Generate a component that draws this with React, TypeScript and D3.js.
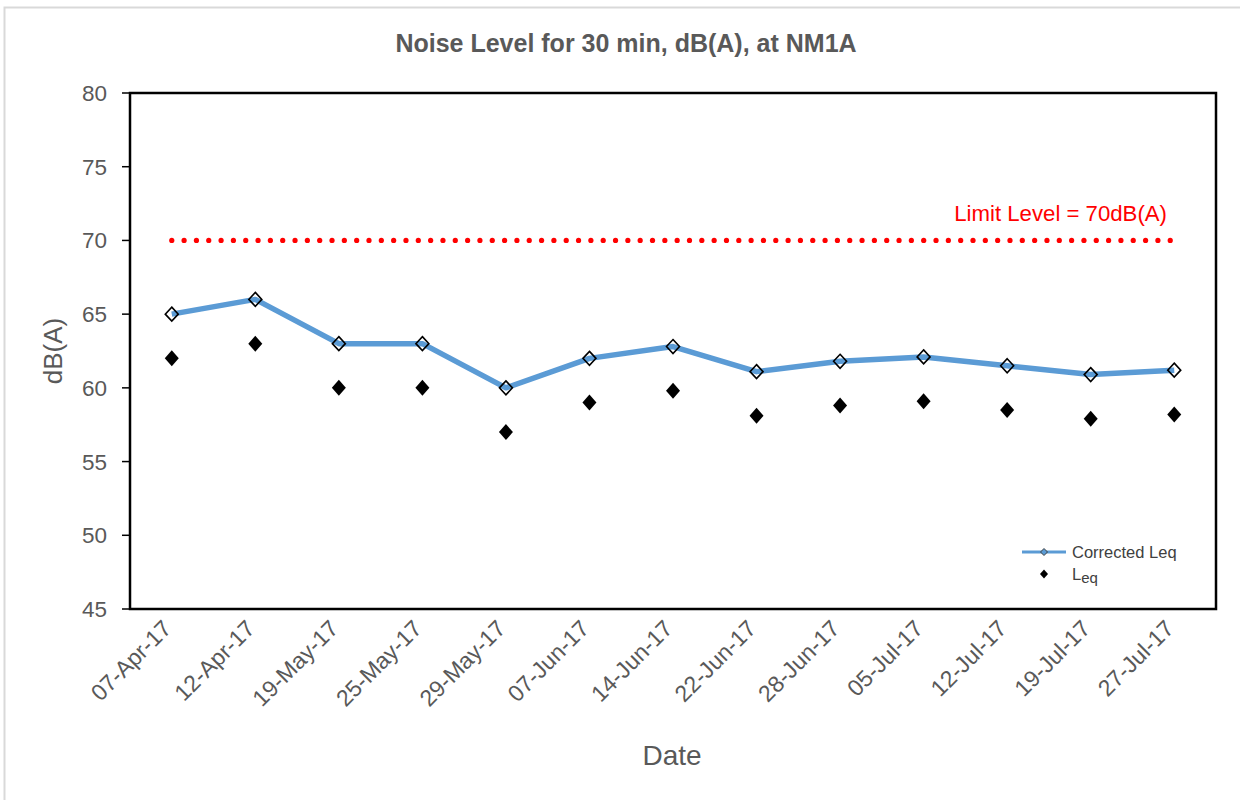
import React from "react";
import * as d3 from "d3";

const dates = ["07-Apr-17","12-Apr-17","19-May-17","25-May-17","29-May-17","07-Jun-17","14-Jun-17","22-Jun-17","28-Jun-17","05-Jul-17","12-Jul-17","19-Jul-17","27-Jul-17"];
const correctedLeq = [65, 66, 63, 63, 60, 62, 62.8, 61.1, 61.8, 62.1, 61.5, 60.9, 61.2];
const leq = [62, 63, 60, 60, 57, 59, 59.8, 58.1, 58.8, 59.1, 58.5, 57.9, 58.2];
const yTicks = [45, 50, 55, 60, 65, 70, 75, 80];
const limitLevel = 70;

const W = 1240, H = 800;
const M = { left: 130, right: 1216, top: 93, bottom: 609 };
const FONT = "'Liberation Sans', Arial, sans-serif";
const GRAY = "#595959";

export default function App() {
  const x = d3.scaleBand<string>().domain(dates).range([M.left, M.right]);
  const cx = (d: string) => (x(d) as number) + x.bandwidth() / 2;
  const y = d3.scaleLinear().domain([45, 80]).range([M.bottom, M.top]);

  const line = d3.line<number>().x((_, i) => cx(dates[i])).y((v) => y(v));
  const diamond = (px: number, py: number, rx: number, ry: number) =>
    `M${px},${py - ry}L${px + rx},${py}L${px},${py + ry}L${px - rx},${py}Z`;

  const limitStart = cx(dates[0]);
  const limitEnd = cx(dates[dates.length - 1]) - 4;
  const nDots = Math.round((limitEnd - limitStart) / 12.3);
  const dots = d3.range(nDots + 1).map((i) => limitStart + (i * (limitEnd - limitStart)) / nDots);

  return (
    <svg width={W} height={H} style={{ position: "absolute", left: 0, top: 0, background: "#fff" }} fontFamily={FONT}>
      <rect x={4.5} y={7.5} width={W} height={H} fill="#fff" stroke="#d9d9d9" strokeWidth={2} />
      <text x={626} y={52} textAnchor="middle" fontSize={25} fontWeight="bold" fill={GRAY}>
        Noise Level for 30 min, dB(A), at NM1A
      </text>

      {/* Plot frame */}
      <rect x={M.left} y={M.top} width={M.right - M.left} height={M.bottom - M.top} fill="none" stroke="#000" strokeWidth={2.5} />

      {/* Y ticks */}
      {yTicks.map((t) => (
        <g key={t}>
          <line x1={M.left - 8} x2={M.left} y1={y(t)} y2={y(t)} stroke="#000" strokeWidth={1.5} />
          <text x={107} y={y(t) + 8} textAnchor="end" fontSize={22.5} fill={GRAY}>{t}</text>
        </g>
      ))}
      <text transform={`translate(62,351) rotate(-90)`} textAnchor="middle" fontSize={26} fill={GRAY}>dB(A)</text>

      {/* X labels */}
      {dates.map((d) => (
        <text key={d} transform={`translate(${cx(d) + 1},${M.bottom + 21}) rotate(-45)`} textAnchor="end" fontSize={23} fill={GRAY}>{d}</text>
      ))}
      <text x={672} y={765} textAnchor="middle" fontSize={28} fill={GRAY}>Date</text>

      {/* Limit line */}
      {dots.map((dx, i) => (
        <circle key={i} cx={dx} cy={y(limitLevel)} r={2.6} fill="#ff0000" />
      ))}
      <text x={1167} y={221} textAnchor="end" fontSize={22.2} fill="#ff0000">Limit Level = 70dB(A)</text>

      {/* Corrected Leq line */}
      <path d={line(correctedLeq) as string} fill="none" stroke="#5b9bd5" strokeWidth={5.5} strokeLinejoin="round" />
      {correctedLeq.map((v, i) => (
        <path key={i} d={diamond(cx(dates[i]), y(v), 6.5, 7)} fill="none" stroke="#000" strokeWidth={1.6} />
      ))}
      {leq.map((v, i) => (
        <path key={i} d={diamond(cx(dates[i]), y(v), 7, 8)} fill="#000" />
      ))}

      {/* Legend */}
      <line x1={1022} x2={1066} y1={552} y2={552} stroke="#5b9bd5" strokeWidth={3} />
      <path d={diamond(1044, 552, 3.5, 3.5)} fill="#5b9bd5" stroke="#404040" strokeWidth={1} />
      <text x={1072} y={558} fontSize={16.5} fill="#404040">Corrected Leq</text>
      <path d={diamond(1044, 574, 4, 4.5)} fill="#000" />
      <text x={1072} y={580} fontSize={16.5} fill="#404040">
        L<tspan dy={3} fontSize={15}>eq</tspan>
      </text>
    </svg>
  );
}
